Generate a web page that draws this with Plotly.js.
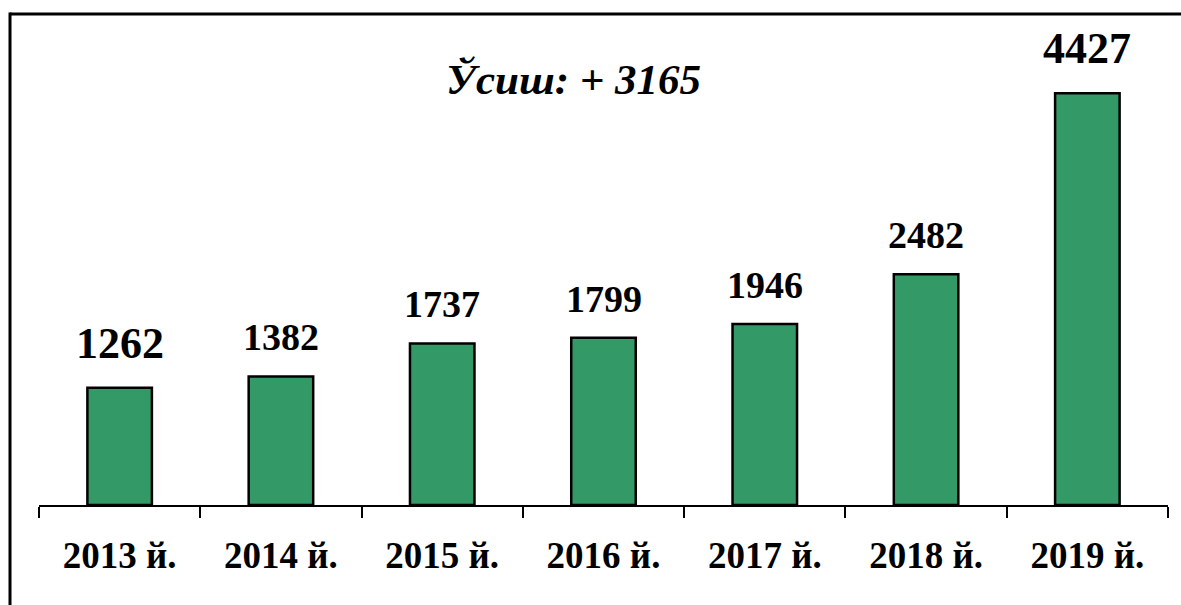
<!DOCTYPE html>
<html>
<head>
<meta charset="utf-8">
<script src="https://cdn.plot.ly/plotly-3.0.1.min.js"></script>
<style>
html,body{margin:0;padding:0;background:#fff;}
#chart{width:1181px;height:605px;}
</style>
</head>
<body>
<div id="chart"></div>
<script>
// Data
var years = ["2013 й.", "2014 й.", "2015 й.", "2016 й.", "2017 й.", "2018 й.", "2019 й."];
var values = [1262, 1382, 1737, 1799, 1946, 2482, 4427];
var growthText = "Ўсиш: + 3165";

// Styles
var W = 1181, Hh = 605;
var ml = 39, mr = 13, mt = 40, mb = 100;
var pw = W - ml - mr, ph = Hh - mt - mb;
var serif = "Liberation Serif, Times New Roman, serif";
var bigLabel = 44, smallLabel = 38;

function px2x(px){ return (px - ml) / pw; }
function py2y(py){ return 1 - (py - mt) / ph; }

var annotations = values.map(function(v, i){
  var big = (i === 0 || i === values.length - 1);
  return {
    x: years[i], y: v, xref: 'x', yref: 'y',
    text: '<b>' + v + '</b>', showarrow: false,
    yanchor: 'bottom', yshift: big ? 18 : 16,
    font: {family: serif, size: big ? bigLabel : smallLabel, color: '#000'}
  };
});
annotations.push({
  xref: 'paper', yref: 'paper', x: px2x(573), y: py2y(79),
  xanchor: 'center', yanchor: 'middle', showarrow: false,
  text: '<b><i>' + growthText + '</i></b>',
  font: {family: serif, size: 43, color: '#000'}
});

var data = [{
  type: 'bar', x: years, y: values,
  marker: {color: '#339966', line: {color: '#000', width: 2.5}},
  hoverinfo: 'none'
}];

var layout = {
  width: W, height: Hh,
  margin: {l: ml, r: mr, t: mt, b: mb, pad: 0},
  paper_bgcolor: '#fff', plot_bgcolor: '#fff',
  showlegend: false,
  bargap: 0.6,
  xaxis: {
    type: 'category', showline: true, linecolor: '#000', linewidth: 2,
    ticks: 'outside', tickson: 'boundaries', ticklen: 11, tickwidth: 2, tickcolor: '#000',
    showgrid: false, zeroline: false,
    tickfont: {family: serif, size: 37, color: '#000', weight: 'bold'},
    ticklabelstandoff: 17
  },
  yaxis: {
    range: [0, 5000], visible: false, showgrid: false, zeroline: false
  },
  annotations: annotations,
  shapes: [
    {type: 'line', xref: 'paper', yref: 'paper', x0: px2x(10), x1: px2x(1190), y0: py2y(14), y1: py2y(14), line: {color: '#000', width: 3}},
    {type: 'line', xref: 'paper', yref: 'paper', x0: px2x(10), x1: px2x(10), y0: py2y(12.5), y1: py2y(620), line: {color: '#000', width: 3}}
  ]
};

Plotly.newPlot('chart', data, layout, {displayModeBar: false, staticPlot: true});
</script>
</body>
</html>
